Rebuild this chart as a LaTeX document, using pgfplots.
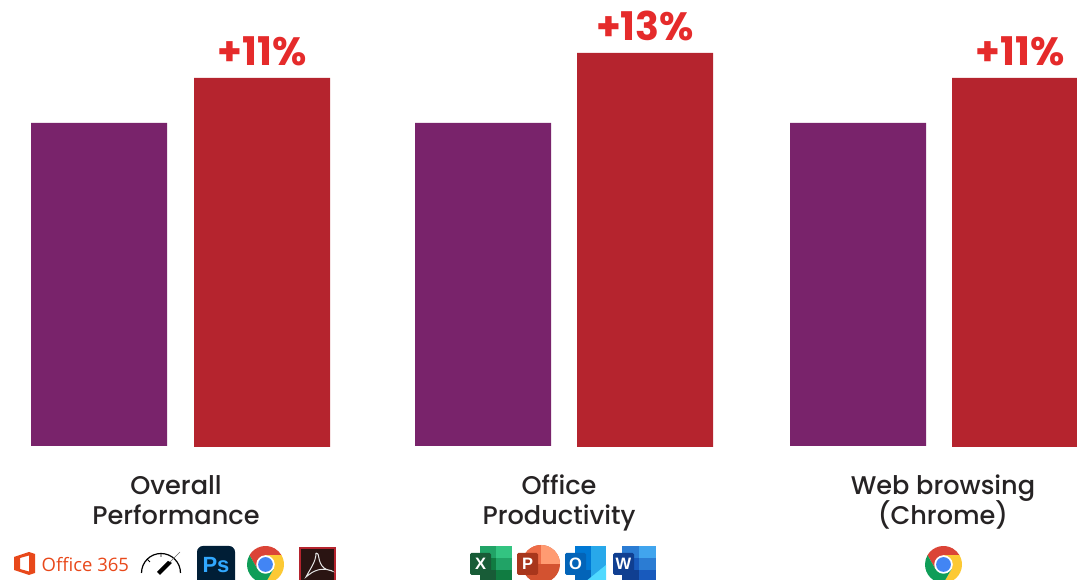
\documentclass[border=0pt]{standalone}
\usepackage{fontspec}
\usepackage{pgfplots}
\pgfplotsset{compat=1.18}
\setmainfont{Poppins}
\newfontfamily\labelfont{Poppins Medium}
\newfontfamily\officefont{Open Sans}
\newfontfamily\badgefont{Liberation Sans}
\definecolor{cPurple}{HTML}{79236B}
\definecolor{cRed}{HTML}{B5242E}
\definecolor{cGain}{HTML}{E52B2B}
\definecolor{cText}{HTML}{262324}
\definecolor{cOffice}{HTML}{E8481A}
\definecolor{cChromeR}{HTML}{DB4437}
\definecolor{cChromeY}{HTML}{FCC934}
\definecolor{cChromeG}{HTML}{0F9D58}
\definecolor{cChromeB}{HTML}{4285F4}
\definecolor{cPs}{HTML}{001E36}
\definecolor{cPsText}{HTML}{31A8FF}
\definecolor{cAcro}{HTML}{2A1412}

% chrome logo, centre in pixels, y from the top of the picture
\newcommand{\chromelogo}[2]{%
  \begin{scope}[shift={(#1,#2)},x=18.5pt,y=18.5pt]
    \fill[cChromeR] (150:1) arc (150:30:1) -- (0,.5) -- (-.433,-.25) -- cycle;
    \fill[cChromeY] (30:1) arc (30:-90:1) -- (.433,-.25) -- (0,.5) -- cycle;
    \fill[cChromeG] (-90:1) arc (-90:-210:1) -- (-.433,-.25) -- (.433,-.25) -- cycle;
    \fill[white] (0,0) circle (.5);
    \fill[cChromeB] (0,0) circle (.4);
  \end{scope}}

% office sheet: x0, x1, then colours top l/r, mid l/r, low l/r
\newcommand{\sheet}[8]{%
  \fill[#3] (#1,546) rectangle ({(#1+#2)/2},558);
  \fill[#4] ({(#1+#2)/2},546) rectangle (#2,558);
  \fill[#5] (#1,558) rectangle ({(#1+#2)/2},570);
  \fill[#6] ({(#1+#2)/2},558) rectangle (#2,570);
  \fill[#7] (#1,570) rectangle ({(#1+#2)/2},582);
  \fill[#8] ({(#1+#2)/2},570) rectangle (#2,582);}

% letter badge in front of the office icons
\newcommand{\badge}[3]{%
  \fill[#2,rounded corners=1.5pt] (#1,553) rectangle ({#1+21},575);
  \node[font=\badgefont\bfseries\fontsize{16.5}{16.5}\selectfont,text=white,inner sep=0pt] at ({#1+10.5},564) {#3};}

\begin{document}
\begin{tikzpicture}
  \path[use as bounding box] (0,0) rectangle (1077pt,580pt);
  \begin{axis}[
    at={(0,0)}, anchor=south west,
    scale only axis, width=1077pt, height=580pt,
    xmin=0, xmax=1077, ymin=-134, ymax=446,
    ybar, bar width=136, bar shift=0pt,
    axis x line=middle, axis y line=none,
    x axis line style={draw=none,-},
    xtick={176,559,943},
    xticklabels={{\strut Overall\\\strut Performance},{\strut Office\\\strut Productivity},{\strut Web browsing\\\strut\smash{(Chrome)}}},
    xtick style={draw=none},
    major tick length=0pt,
    xticklabel style={align=center, font=\labelfont\fontsize{25.6}{30}\selectfont, text=cText, anchor=north, yshift=-23.7pt},
    clip=true,
  ]
    \addplot[fill=cPurple, draw=none] coordinates {(99,323) (483,323) (858,323)};
    \addplot[fill=cRed, draw=none, yshift=-1pt,
      point meta=explicit symbolic,
      nodes near coords,
      nodes near coords style={font=\fontsize{39.5}{39.5}\bfseries\selectfont, text=cGain, anchor=south, yshift=12pt, inner sep=0pt}]
      coordinates {(262,369)[+11\%] (645,394)[+13\%] (1020,369)[+11\%]};
  \end{axis}
  \begin{scope}
    \clip (0,0) rectangle (1077pt,580pt);
    \begin{scope}[x=1pt,y=-1pt,yshift=580pt]
      % office 365
      \fill[even odd rule,fill=cOffice] (14,557) -- (29,552) -- (35,554) -- (35,573) -- (29,575) -- (14,570) -- cycle
        (20,558) -- (29,555.5) -- (29,571.5) -- (20,569) -- cycle;
      \node[font=\officefont\fontsize{18.5}{18.5}\selectfont,text=cOffice,anchor=west,inner sep=0pt] at (41.5,565) {Office 365};
      % gauge
      \draw[line width=1.2pt] (141.5,573) arc (180:360:19.5);
      \draw[line width=.8pt] (161,553.5) -- (161,557) (147,559) -- (150,562);
      \fill (157,572) -- (160,575) -- (172,563) -- (168,561) -- cycle;
      \draw[line width=.5pt,black!60] (170,562) -- (180,552);
      % photoshop
      \fill[cPs,rounded corners=6pt] (197,546) rectangle (235,586);
      \node[font=\badgefont\bfseries\fontsize{22}{22}\selectfont,text=cPsText,inner sep=0pt] at (216,565) {Ps};
      % chrome
      \chromelogo{265.5}{564.5}
      % acrobat
      \fill[cRed] (299,547) rectangle (336,590);
      \fill[cAcro] (301,549) rectangle (334,590);
      \draw[white!90!black,line width=1pt] (316,553) .. controls (320,552) and (317,562) .. (324,568)
        .. controls (328,571) and (332,570) .. (332,571) .. controls (322,567) and (314,570) .. (306,577)
        .. controls (310,569) and (316,562) .. (316,553);
      % excel
      \definecolor{xa}{HTML}{21A366}\definecolor{xb}{HTML}{33C481}\definecolor{xc}{HTML}{107C41}\definecolor{xd}{HTML}{185C37}
      \sheet{480}{512}{xa}{xb}{xc}{xa}{xd}{xc}
      \badge{470}{xd}{X}
      % powerpoint
      \definecolor{pa}{HTML}{D35230}\definecolor{pb}{HTML}{ED6C47}\definecolor{pc}{HTML}{FF9B72}\definecolor{pd}{HTML}{A8361C}
      \fill[pa] (541,564) circle (19);
      \fill[pb] (541,564) -- (522,564) arc (180:270:19) -- cycle;
      \fill[pc] (541,564) -- (541,545) arc (270:360:19) -- cycle;
      \badge{517}{pd}{P}
      % outlook
      \definecolor{oa}{HTML}{0364B8}\definecolor{ob}{HTML}{0078D4}\definecolor{oc}{HTML}{28A8EA}\definecolor{od}{HTML}{50D9FF}
      \sheet{575}{606}{ob}{oc}{ob}{oc}{oa}{oc}
      \fill[od] (585,582) -- (606,565) -- (606,582) -- cycle;
      \badge{565}{oa}{O}
      % word
      \definecolor{wa}{HTML}{41A5EE}\definecolor{wb}{HTML}{2B7CD3}\definecolor{wc}{HTML}{185ABD}\definecolor{wd}{HTML}{103F91}
      \sheet{622}{656}{wb}{wa}{wc}{wb}{wd}{wc}
      \badge{613}{wd}{W}
      % chrome, third group
      \chromelogo{943.5}{564.5}
    \end{scope}
  \end{scope}
\end{tikzpicture}
\end{document}
